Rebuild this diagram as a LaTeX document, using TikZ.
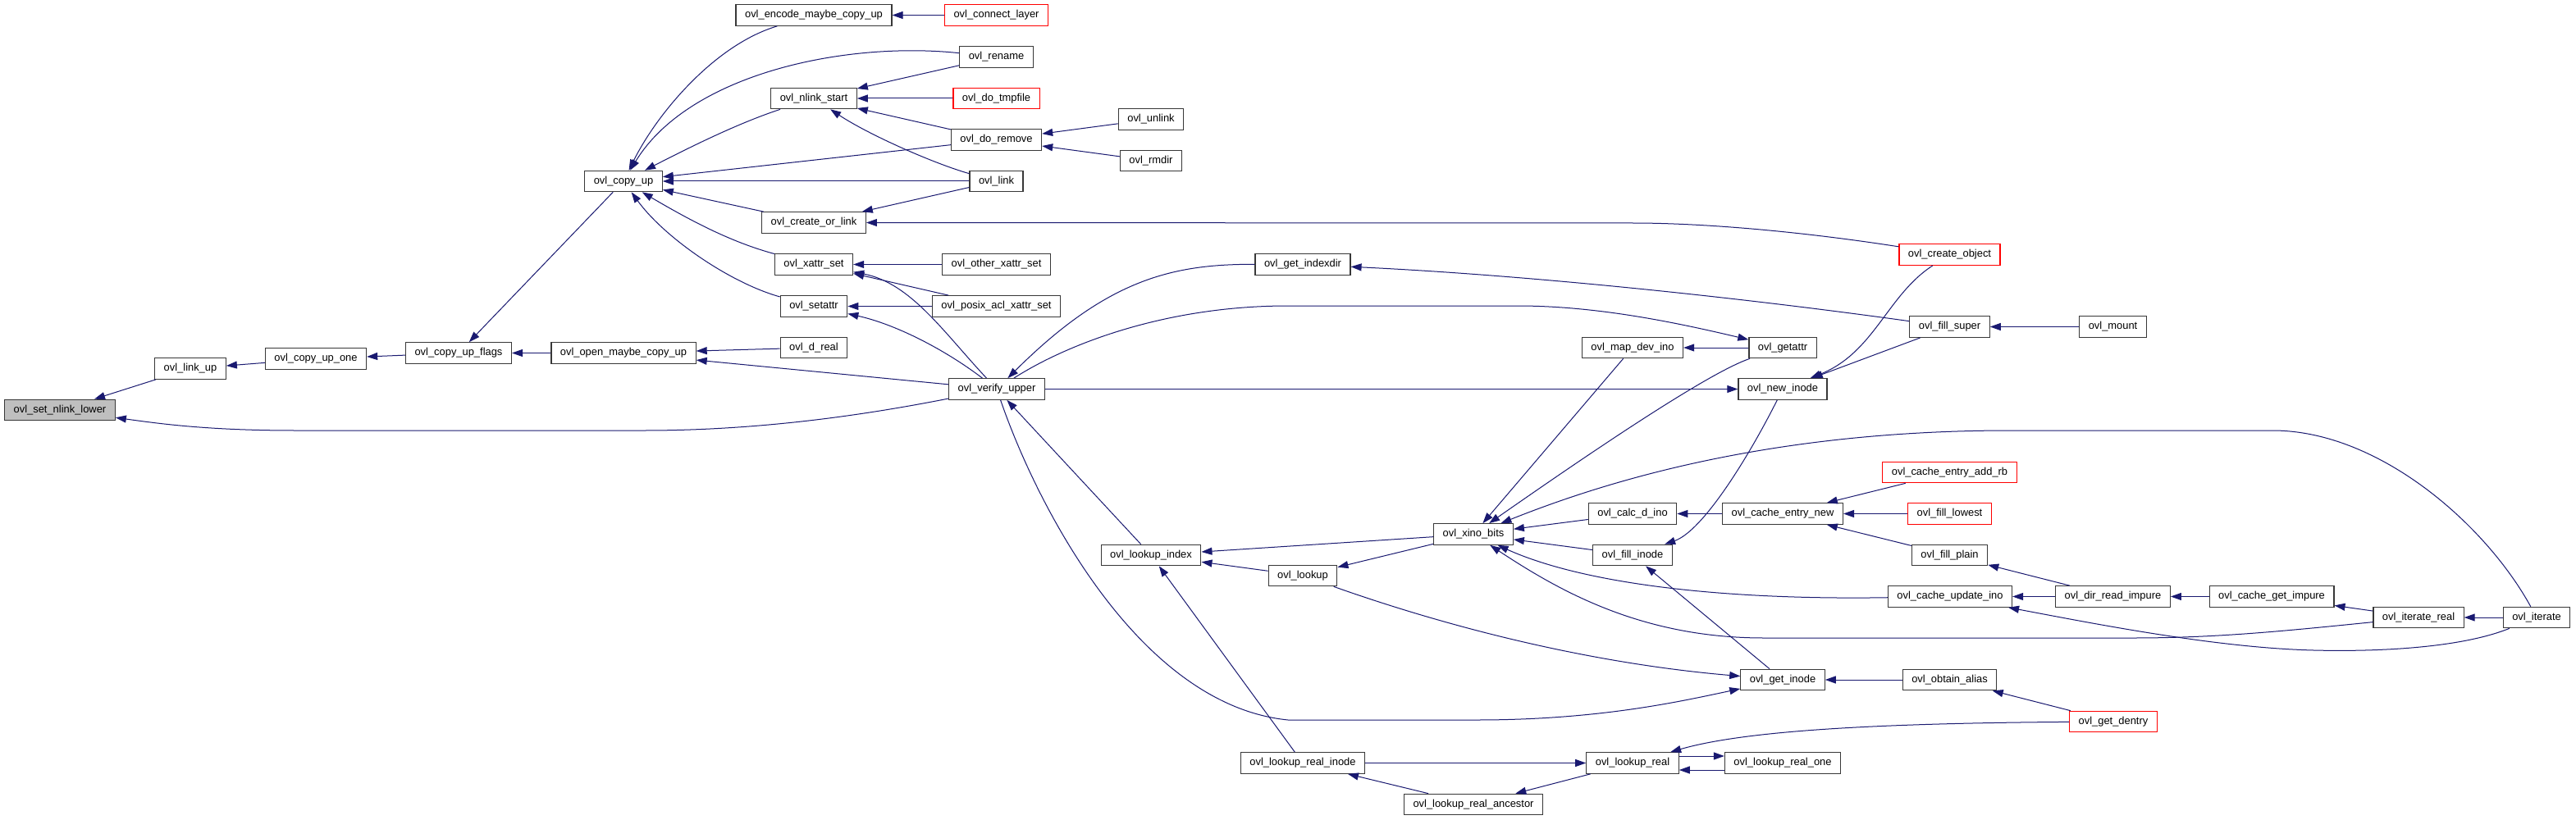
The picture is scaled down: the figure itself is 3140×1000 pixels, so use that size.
\documentclass[tikz,border=0pt]{standalone}
\usepackage{fontspec}
\setmainfont{Liberation Sans}
\usetikzlibrary{arrows.meta}
\definecolor{edgec}{HTML}{191970}
\definecolor{rootfill}{HTML}{BFBFBF}
\begin{document}
\begin{tikzpicture}[x=1pt,y=-1pt,
  fn/.style={draw=black!78, line width=1.2pt, fill=white, font=\fontsize{12.9pt}{15pt}\selectfont,
    inner xsep=11pt, inner ysep=0pt, minimum height=25.5pt, anchor=center},
  trunc/.style={fn, draw=red},
  rootfn/.style={fn, fill=rootfill},
  e/.style={draw=edgec, line width=1pt, -{Triangle[length=13pt,width=9pt]}}]
\useasboundingbox (0,0) rectangle (3140,1000);
\fill[white] (0,0) rectangle (3140,1000);
% nodes
\node[rootfn] (setnlink) at (73,500) {ovl\_set\_nlink\_lower};
\node[fn] (linkup) at (232,449.5) {ovl\_link\_up};
\node[fn] (copyupone) at (385,437.5) {ovl\_copy\_up\_one};
\node[fn] (copyupflags) at (559,430.5) {ovl\_copy\_up\_flags};
\node[fn] (copyup) at (760,221) {ovl\_copy\_up};
\node[fn] (openmaybe) at (760,430.5) {ovl\_open\_maybe\_copy\_up};
\node[fn] (encode) at (992,18.5) {ovl\_encode\_maybe\_copy\_up};
\node[fn] (nlinkstart) at (992,120) {ovl\_nlink\_start};
\node[fn] (createorlink) at (992,271.5) {ovl\_create\_or\_link};
\node[fn] (xattrset) at (992,322.5) {ovl\_xattr\_set};
\node[fn] (setattr) at (992,373.5) {ovl\_setattr};
\node[fn] (dreal) at (992,424) {ovl\_d\_real};
\node[trunc] (connect) at (1214.5,18.5) {ovl\_connect\_layer};
\node[fn] (rename) at (1214.5,69.5) {ovl\_rename};
\node[trunc] (dotmpfile) at (1214.5,120) {ovl\_do\_tmpfile};
\node[fn] (doremove) at (1214.5,170.5) {ovl\_do\_remove};
\node[fn] (link) at (1214.5,221) {ovl\_link};
\node[fn] (otherxattr) at (1214.5,322.5) {ovl\_other\_xattr\_set};
\node[fn] (posixacl) at (1214.5,373.5) {ovl\_posix\_acl\_xattr\_set};
\node[fn] (verify) at (1215,474.5) {ovl\_verify\_upper};
\node[fn] (unlink) at (1403,145.5) {ovl\_unlink};
\node[fn] (rmdir) at (1403,196) {ovl\_rmdir};
\node[fn] (lookupindex) at (1403,677) {ovl\_lookup\_index};
\node[fn] (getindexdir) at (1588,322.5) {ovl\_get\_indexdir};
\node[fn] (lookup) at (1588,702) {ovl\_lookup};
\node[fn] (lookuprealinode) at (1588,930.5) {ovl\_lookup\_real\_inode};
\node[fn] (xinobits) at (1796,651.5) {ovl\_xino\_bits};
\node[fn] (ancestor) at (1796,981) {ovl\_lookup\_real\_ancestor};
\node[fn] (mapdevino) at (1990,424) {ovl\_map\_dev\_ino};
\node[fn] (calcdino) at (1990,626.5) {ovl\_calc\_d\_ino};
\node[fn] (fillinode) at (1990,677) {ovl\_fill\_inode};
\node[fn] (lookupreal) at (1990,930.5) {ovl\_lookup\_real};
\node[fn] (getattr) at (2173,424) {ovl\_getattr};
\node[fn] (newinode) at (2173,474.5) {ovl\_new\_inode};
\node[fn] (cacheentrynew) at (2173,626.5) {ovl\_cache\_entry\_new};
\node[fn] (getinode) at (2173,829) {ovl\_get\_inode};
\node[fn] (lookuprealone) at (2173,930.5) {ovl\_lookup\_real\_one};
\node[trunc] (createobject) at (2376.5,310.5) {ovl\_create\_object};
\node[fn] (fillsuper) at (2376.5,398.5) {ovl\_fill\_super};
\node[trunc] (addrb) at (2376.5,576) {ovl\_cache\_entry\_add\_rb};
\node[trunc] (filllowest) at (2376.5,626.5) {ovl\_fill\_lowest};
\node[fn] (fillplain) at (2376.5,677) {ovl\_fill\_plain};
\node[fn] (cacheupdateino) at (2377,727.5) {ovl\_cache\_update\_ino};
\node[fn] (obtainalias) at (2376.5,829) {ovl\_obtain\_alias};
\node[fn] (mount) at (2575.5,398.5) {ovl\_mount};
\node[fn] (dirreadimpure) at (2575.5,727.5) {ovl\_dir\_read\_impure};
\node[trunc] (getdentry) at (2576,880) {ovl\_get\_dentry};
\node[fn] (cachegetimpure) at (2769,727.5) {ovl\_cache\_get\_impure};
\node[fn] (iteratereal) at (2948,753) {ovl\_iterate\_real};
\node[fn] (iterate) at (3092,753) {ovl\_iterate};
% edges (caller -> callee)
\draw[e] (linkup) -- (setnlink);
\draw[e] (verify) .. controls (1060,505) and (930,525) .. (785,525) -- (360,525) .. controls (250,525) and (190,516) .. (setnlink);
\draw[e] (copyupone) -- (linkup);
\draw[e] (copyupflags) -- (copyupone);
\draw[e] (copyup) -- (copyupflags);
\draw[e] (openmaybe) -- (copyupflags);
\draw[e] (encode) .. controls (870,55) and (800,140) .. (copyup);
\draw[e] (rename) .. controls (1030,50) and (840,90) .. (copyup);
\draw[e] (nlinkstart) .. controls (900,150) and (840,180) .. (copyup);
\draw[e] (doremove) -- (copyup);
\draw[e] (link) -- (copyup);
\draw[e] (createorlink) -- (copyup);
\draw[e] (xattrset) .. controls (890,295) and (840,268) .. (copyup);
\draw[e] (setattr) .. controls (890,345) and (810,290) .. (copyup);
\draw[e] (connect) -- (encode);
\draw[e] (rename) -- (nlinkstart);
\draw[e] (dotmpfile) -- (nlinkstart);
\draw[e] (doremove) -- (nlinkstart);
\draw[e] (link) .. controls (1140,200) and (1060,165) .. (nlinkstart);
\draw[e] (unlink) -- (doremove);
\draw[e] (rmdir) -- (doremove);
\draw[e] (link) -- (createorlink);
\draw[e] (createobject) .. controls (2200,283) and (2080,272) .. (1990,272) -- (createorlink);
\draw[e] (otherxattr) -- (xattrset);
\draw[e] (posixacl) -- (xattrset);
\draw[e] (verify) .. controls (1150,405) and (1110,345) .. (xattrset);
\draw[e] (posixacl) -- (setattr);
\draw[e] (verify) .. controls (1150,425) and (1090,395) .. (setattr);
\draw[e] (dreal) -- (openmaybe);
\draw[e] (verify) -- (openmaybe);
\draw[e] (getindexdir) .. controls (1430,322) and (1350,340) .. (verify);
\draw[e] (verify) .. controls (1300,420) and (1420,373) .. (1570,373) -- (1850,373) .. controls (1950,373) and (2050,395) .. (getattr);
\draw[e] (verify) -- (newinode);
\draw[e] (lookupindex) -- (verify);
\draw[e] (verify) .. controls (1265,620) and (1390,860) .. (1570,878) -- (1800,878) .. controls (1950,878) and (2050,855) .. (getinode);
\draw[e] (newinode) .. controls (2130,560) and (2075,648) .. (fillinode);
\draw[e] (createobject) .. controls (2300,360) and (2285,430) .. (newinode);
\draw[e] (fillsuper) -- (newinode);
\draw[e] (fillsuper) .. controls (2100,360) and (1850,335) .. (getindexdir);
\draw[e] (mount) -- (fillsuper);
\draw[e] (getattr) -- (mapdevino);
\draw[e] (mapdevino) -- (xinobits);
\draw[e] (getattr) .. controls (2080,455) and (1920,565) .. (xinobits);
\draw[e] (iterate) .. controls (3030,640) and (2900,525) .. (2770,525) -- (2450,525) .. controls (2150,525) and (1950,590) .. (xinobits);
\draw[e] (calcdino) -- (xinobits);
\draw[e] (cacheentrynew) -- (calcdino);
\draw[e] (addrb) -- (cacheentrynew);
\draw[e] (filllowest) -- (cacheentrynew);
\draw[e] (fillplain) -- (cacheentrynew);
\draw[e] (fillinode) -- (xinobits);
\draw[e] (xinobits) -- (lookupindex);
\draw[e] (xinobits) -- (lookup);
\draw[e] (lookup) -- (lookupindex);
\draw[e] (lookuprealinode) -- (lookupindex);
\draw[e] (cacheupdateino) .. controls (2100,732) and (1930,712) .. (xinobits);
\draw[e] (iteratereal) .. controls (2780,770) and (2700,778) .. (2600,778) -- (2150,778) .. controls (2000,778) and (1900,720) .. (xinobits);
\draw[e] (iterate) .. controls (3000,790) and (2900,795) .. (2820,793) .. controls (2700,790) and (2550,760) .. (cacheupdateino);
\draw[e] (dirreadimpure) -- (fillplain);
\draw[e] (dirreadimpure) -- (cacheupdateino);
\draw[e] (cachegetimpure) -- (dirreadimpure);
\draw[e] (iteratereal) -- (cachegetimpure);
\draw[e] (iterate) -- (iteratereal);
\draw[e] (getinode) -- (fillinode);
\draw[e] (lookup) .. controls (1780,770) and (1950,810) .. (getinode);
\draw[e] (obtainalias) -- (getinode);
\draw[e] (getdentry) -- (obtainalias);
\draw[e] (getdentry) .. controls (2300,882) and (2130,890) .. (lookupreal);
\draw[e] (lookuprealinode) -- (lookupreal);
\draw[e] (ancestor) -- (lookuprealinode);
\draw[e] (lookupreal) -- (ancestor);
\draw[e] ([yshift=8.5pt]lookupreal.east) -- ([yshift=8.5pt]lookuprealone.west);
\draw[e] ([yshift=-8.5pt]lookuprealone.west) -- ([yshift=-8.5pt]lookupreal.east);
\end{tikzpicture}
\end{document}
